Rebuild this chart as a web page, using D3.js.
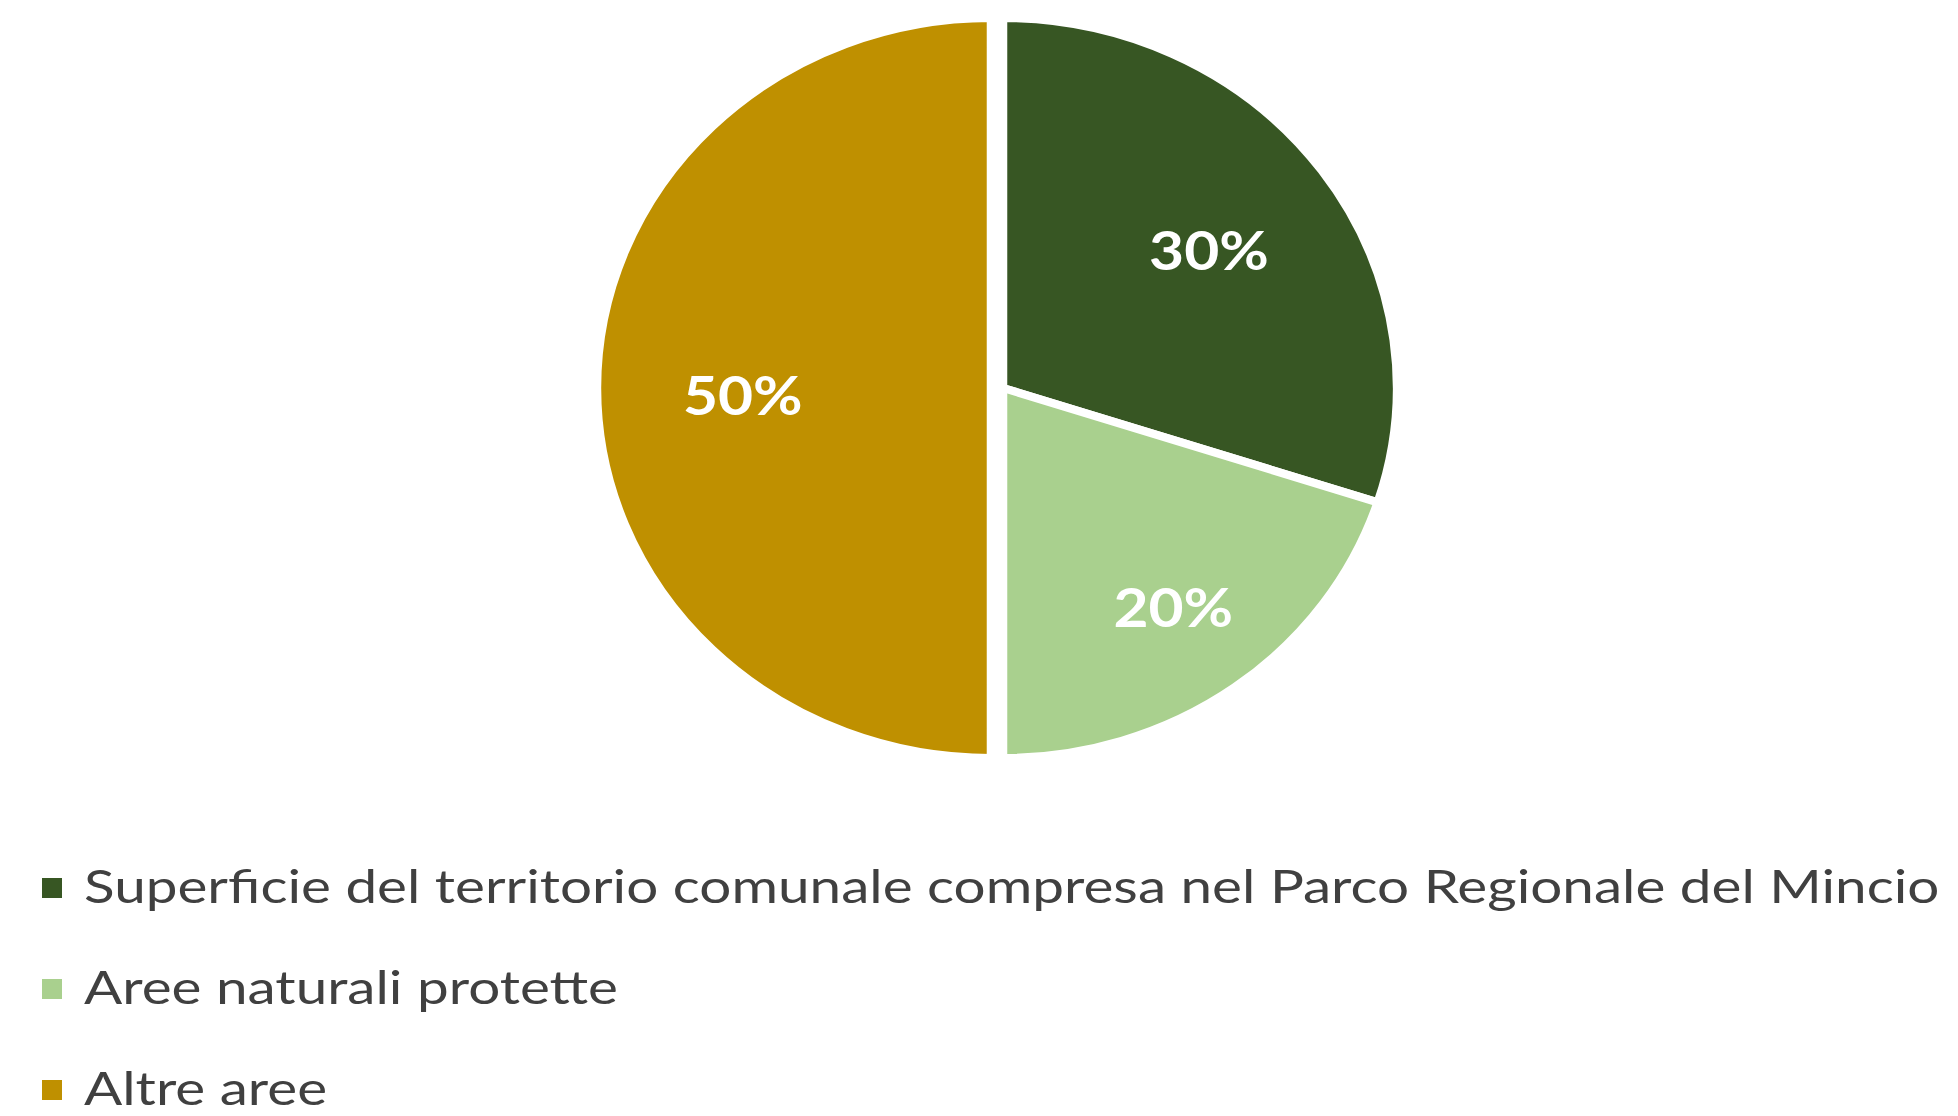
<!DOCTYPE html>
<html>
<head>
<meta charset="utf-8">
<script src="https://cdn.jsdelivr.net/npm/d3@7"></script>
<style>
  html, body { margin: 0; padding: 0; background: #ffffff; }
  svg { display: block; }
</style>
</head>
<body>
<svg id="chart" width="1958" height="1116"></svg>
<script>
// ---- data ----
const categories = [
  "Superficie del territorio comunale compresa nel Parco Regionale del Mincio",
  "Aree naturali protette",
  "Altre aree"
];
const values = [30, 20, 50];
const valueLabels = ["30%", "20%", "50%"];
const colors = ["#375623", "#a9d08e", "#bf9000"];

// ---- layout / style config ----
const W = 1958, H = 1116;
const cx = 1003, cy = 388, R = 370, sx = 1.065;
const explode = { "Altre aree": 12 };
const labelRadius = { [categories[0]]: 0.646, [categories[1]]: 0.735, [categories[2]]: 0.63 };
const labelNudgeY = { [categories[0]]: 3, [categories[1]]: 0, [categories[2]]: 8 };
const labelStretch = 1.12;
const legendStretch = 1.205;
const textColor = "#404040";

const svg = d3.select("#chart");
svg.append("rect").attr("width", W).attr("height", H).attr("fill", "#fff");

const data = categories.map((c, i) => ({ name: c, value: values[i], label: valueLabels[i], color: colors[i] }));

const pie = d3.pie().value(d => d.value).sort(null).startAngle(0).endAngle(2 * Math.PI);
const arcs = pie(data);
const arc = d3.arc().innerRadius(0).outerRadius(R);

const pieG = svg.append("g").attr("transform", `translate(${cx},${cy})`);

arcs.forEach(a => {
  const mid = (a.startAngle + a.endAngle) / 2;
  const off = explode[a.data.name] || 0;
  const ox = Math.sin(mid) * off, oy = -Math.cos(mid) * off;
  const g = pieG.append("g").attr("transform", `translate(${ox},${oy}) scale(${sx},1)`);
  g.append("path")
    .attr("d", arc(a))
    .attr("fill", a.data.color)
    .attr("stroke", "#ffffff")
    .attr("stroke-width", 8)
    .attr("stroke-linejoin", "round");
});

arcs.forEach(a => {
  const mid = (a.startAngle + a.endAngle) / 2;
  const off = explode[a.data.name] || 0;
  const lr = R * labelRadius[a.data.name];
  const lx = (Math.sin(mid) * lr) * sx + Math.sin(mid) * off;
  const ly = -Math.cos(mid) * lr - Math.cos(mid) * off + labelNudgeY[a.data.name];
  pieG.append("g")
    .attr("transform", `translate(${lx},${ly}) scale(${labelStretch},1)`)
    .append("text")
    .attr("dy", "0.36em")
    .attr("text-anchor", "middle")
    .attr("font-family", "Lato, 'Open Sans', sans-serif")
    .attr("font-weight", "bold")
    .attr("font-size", 54)
    .attr("fill", "#ffffff")
    .text(a.data.label);
});

// ---- legend ----
const legendY = d3.scalePoint().domain(categories).range([903, 1105]);
const legend = svg.append("g");
const items = legend.selectAll("g.item").data(data).enter().append("g").attr("class", "item");
items.append("rect")
  .attr("x", 42)
  .attr("y", d => legendY(d.name) - 25)
  .attr("width", 20).attr("height", 20)
  .attr("fill", d => d.color);
items.append("g")
  .attr("transform", d => `translate(84,${legendY(d.name)}) scale(${legendStretch},1)`)
  .append("text")
  .attr("font-family", "Lato, 'Open Sans', sans-serif")
  .attr("font-size", 47)
  .attr("fill", textColor)
  .text(d => d.name);
</script>
</body>
</html>
